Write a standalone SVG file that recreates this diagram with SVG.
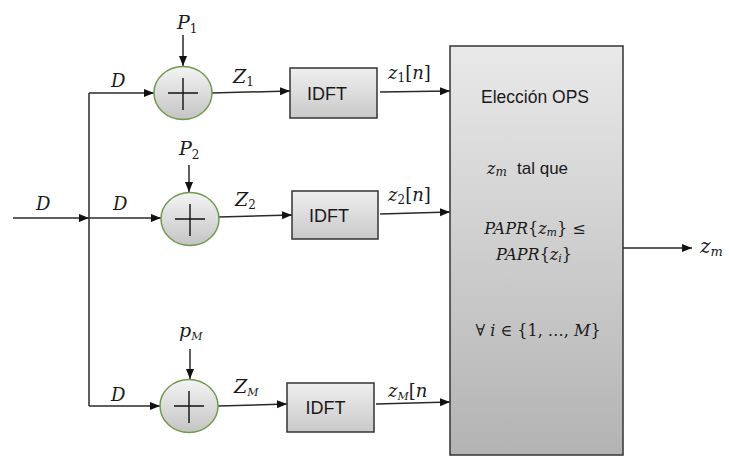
<svg xmlns="http://www.w3.org/2000/svg" width="729" height="457" viewBox="0 0 729 457">
<style>
.ln{fill:none;stroke:#2a2a2a;stroke-width:1.5}
.m{font-family:"DejaVu Serif","Liberation Serif",serif;font-style:italic;fill:#1a1a1a}
.s{font-family:"Liberation Sans",Arial,sans-serif;fill:#1a1a1a}
.sum{fill:url(#gc);stroke:#6f9a4e;stroke-width:1.5}
.plus{stroke:#111;stroke-width:1.4}
.idft{fill:url(#gi);stroke:#333;stroke-width:1.5}
</style>
<defs>
<marker id="ah" markerWidth="11" markerHeight="9" refX="10" refY="4" orient="auto" markerUnits="userSpaceOnUse"><path d="M0,0 L10,4 L0,8 z" fill="#111"/></marker>
<linearGradient id="gc" x1="0" y1="0" x2="0" y2="1"><stop offset="0" stop-color="#f4f4f4"/><stop offset="1" stop-color="#c4c4c4"/></linearGradient>
<linearGradient id="gi" x1="0" y1="0" x2="0" y2="1"><stop offset="0" stop-color="#efefef"/><stop offset="1" stop-color="#c9c9c9"/></linearGradient>
<linearGradient id="gb" x1="0" y1="0" x2="0" y2="1"><stop offset="0" stop-color="#e9e9e9"/><stop offset="1" stop-color="#b3b3b3"/></linearGradient>
</defs>
<g id="connectors">
<path class="ln" d="M13,218 L89,218" marker-end="url(#ah)"/>
<path class="ln" d="M89,93 L89,406"/>
<path class="ln" d="M89,93 L154,93" marker-end="url(#ah)"/>
<path class="ln" d="M89,218 L161,218" marker-end="url(#ah)"/>
<path class="ln" d="M89,406 L160,406" marker-end="url(#ah)"/>
<path class="ln" d="M183,35 L183,66" marker-end="url(#ah)"/>
<path class="ln" d="M189,165 L189,192" marker-end="url(#ah)"/>
<path class="ln" d="M190,349 L190,379" marker-end="url(#ah)"/>
<path class="ln" d="M212,93 L290,91" marker-end="url(#ah)"/>
<path class="ln" d="M219,217 L292,215" marker-end="url(#ah)"/>
<path class="ln" d="M218,406 L287,404" marker-end="url(#ah)"/>
<path class="ln" d="M380,92 L450,91" marker-end="url(#ah)"/>
<path class="ln" d="M380,214 L450,212" marker-end="url(#ah)"/>
<path class="ln" d="M376,404 L450,402" marker-end="url(#ah)"/>
<path class="ln" d="M623,248 L692,248" marker-end="url(#ah)"/>
</g>
<g id="labels">
<text class="m" x="36" y="210" font-size="18">D</text>
<text class="m" x="111" y="87" font-size="18">D</text>
<text class="m" x="113" y="210" font-size="18">D</text>
<text class="m" x="111" y="401" font-size="18">D</text>
<text class="m" x="177" y="29" font-size="19">P<tspan font-size="12" font-style="normal" dy="4">1</tspan></text>
<text class="m" x="179" y="155" font-size="19">P<tspan font-size="12" font-style="normal" dy="4">2</tspan></text>
<text class="m" x="179" y="337" font-size="19">p<tspan font-size="11" dy="3">M</tspan></text>
<text class="m" x="233" y="83" font-size="19">Z<tspan font-size="12" font-style="normal" dy="3">1</tspan></text>
<text class="m" x="235" y="206" font-size="19">Z<tspan font-size="12" font-style="normal" dy="3">2</tspan></text>
<text class="m" x="234" y="393" font-size="19">Z<tspan font-size="11" dy="3">M</tspan></text>
<text class="m" x="388" y="79" font-size="18">z<tspan font-size="12" font-style="normal" dy="3">1</tspan><tspan dy="-3" font-style="normal">[</tspan>n<tspan font-style="normal">]</tspan></text>
<text class="m" x="388" y="201" font-size="18">z<tspan font-size="12" font-style="normal" dy="3">2</tspan><tspan dy="-3" font-style="normal">[</tspan>n<tspan font-style="normal">]</tspan></text>
<text class="m" x="388" y="397" font-size="18">z<tspan font-size="11" dy="3">M</tspan><tspan dy="-3" font-style="normal">[</tspan>n</text>
<text class="m" x="700" y="253" font-size="20">z<tspan font-size="13" dy="3">m</tspan></text>
</g>
<g id="sum1"><ellipse class="sum" cx="183" cy="93" rx="29" ry="26.5"/><path class="plus" d="M168,93 H198 M183,78 V110"/></g>
<g id="sum2"><ellipse class="sum" cx="190" cy="219" rx="29" ry="26.5"/><path class="plus" d="M175,219 H205 M190,204 V236"/></g>
<g id="sumM"><ellipse class="sum" cx="189" cy="406" rx="29" ry="26.5"/><path class="plus" d="M174,406 H204 M189,391 V423"/></g>
<g id="idft1"><rect class="idft" x="290" y="68" width="87" height="50"/><text class="s" x="327" y="100" font-size="18" text-anchor="middle">IDFT</text></g>
<g id="idft2"><rect class="idft" x="292" y="191" width="86" height="48"/><text class="s" x="329" y="222" font-size="18" text-anchor="middle">IDFT</text></g>
<g id="idftM"><rect class="idft" x="287" y="383" width="87" height="49"/><text class="s" x="325.5" y="414" font-size="18" text-anchor="middle">IDFT</text></g>
<g id="ops">
<rect x="450" y="46" width="173" height="409" fill="url(#gb)" stroke="#333" stroke-width="1.5"/>
<text class="s" x="535" y="103" font-size="17.5" text-anchor="middle">Elección OPS</text>
<text class="m" x="487" y="174" font-size="16">z<tspan font-size="12" dy="2">m</tspan></text>
<text class="s" x="517" y="174" font-size="17">tal que</text>
<text class="m" x="535" y="234" font-size="16" text-anchor="middle">PAPR<tspan font-style="normal">{</tspan>z<tspan font-size="11" dy="2">m</tspan><tspan font-style="normal" dy="-2">} ≤</tspan></text>
<text class="m" x="534" y="260" font-size="16" text-anchor="middle">PAPR<tspan font-style="normal">{</tspan>z<tspan font-size="11" dy="2">i</tspan><tspan font-style="normal" dy="-2">}</tspan></text>
<text class="m" x="538" y="336" font-size="16" text-anchor="middle"><tspan font-style="normal">∀</tspan> i <tspan font-style="normal">∈ {1, …,</tspan> M<tspan font-style="normal">}</tspan></text>
</g>
</svg>
